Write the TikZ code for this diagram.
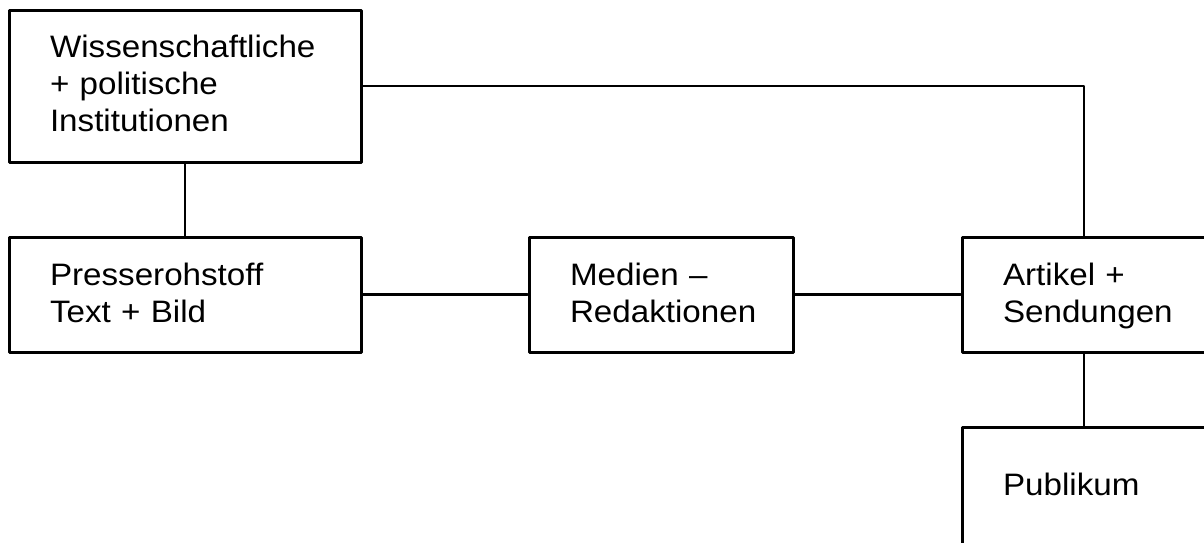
\documentclass[tikz,border=0pt]{standalone}
\usepackage{fontspec}
\setmainfont{Liberation Sans}[FakeStretch=1.07]
\begin{document}
\begin{tikzpicture}[x=1pt,y=-1pt,line join=round,line cap=round,
  font=\fontsize{31}{37}\selectfont,
  box/.style={draw,line width=3pt,inner xsep=41pt,inner ysep=0pt,align=left,text width=#1},
  link/.style={line width=2.8pt}]
\useasboundingbox (0,0) rectangle (1204,542);
\clip (0,0) rectangle (1204,542);
\node[box=270pt,minimum height=152pt,text depth=80pt] (inst) at (185,86) {Wissenschaftliche\\+ politische\\Institutionen};
\node[box=270pt,minimum height=115pt,text depth=41pt] (rohstoff) at (185,294.5) {Presserohstoff\\Text + Bild};
\node[box=182pt,minimum height=115pt,text depth=41pt] (medien) at (661,294.5) {Medien --\\Redaktionen};
\node[box=162pt,minimum height=115pt,text depth=41pt] (artikel) at (1084,294.5) {Artikel +\\Sendungen};
\node[box=162pt,minimum height=118pt,text depth=4pt] (publikum) at (1084,486) {Publikum};

\draw[link] (inst) -- (rohstoff);
\foreach \a/\b in {rohstoff/medien,medien/artikel,artikel/publikum}{\draw[link] (\a) -- (\b);}
\draw[link] (inst.east) -| (artikel.north);
\end{tikzpicture}
\end{document}
